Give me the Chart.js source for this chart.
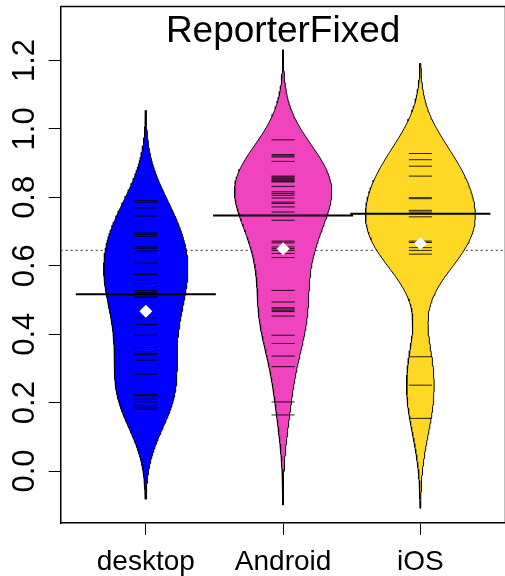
<!DOCTYPE html>
<html lang="en">

<head>
    <meta charset="UTF-8">
    <title>ReporterFixed</title>
    <script src="https://cdn.jsdelivr.net/npm/chart.js"></script>
    <style>
        html, body { margin: 0; padding: 0; overflow: hidden; background: #fff; }
        /* plot box runs a few pixels past the right edge of the window */
        #wrap { width: 512px; height: 576px; }
    </style>
</head>

<body>
    <div id="wrap"><canvas id="beanChart"></canvas></div>

    <script>
        const groups = ['desktop', 'Android', 'iOS'];
        const beanColors = ['#0000FF', '#F043BE', '#FFD826'];

        // single observations, one short line each
        const desktopObs = [0.791, 0.786, 0.769, 0.745, 0.696, 0.691, 0.686, 0.655, 0.650, 0.643,
            0.636, 0.608, 0.577, 0.574, 0.548, 0.527, 0.522, 0.518, 0.511, 0.507,
            0.448, 0.428, 0.397, 0.361, 0.344, 0.341, 0.324, 0.283, 0.224, 0.220,
            0.210, 0.202, 0.191, 0.186, 0.181];
        const androidObs = [0.968, 0.925, 0.921, 0.918, 0.905, 0.862, 0.859, 0.856, 0.853, 0.850,
            0.847, 0.845, 0.832, 0.816, 0.811, 0.806, 0.798, 0.786, 0.782, 0.772,
            0.757, 0.733, 0.672, 0.667, 0.655, 0.650, 0.645, 0.636, 0.624, 0.528,
            0.494, 0.478, 0.474, 0.470, 0.466, 0.453, 0.397, 0.373, 0.336, 0.305,
            0.202, 0.164];
        const iosObs = [0.928, 0.910, 0.891, 0.862, 0.799, 0.796, 0.762, 0.757, 0.743, 0.672,
            0.668, 0.653, 0.645, 0.634, 0.334, 0.251, 0.154];

        const beanAverages = [0.517, 0.747, 0.752];   // long black lines
        const beanMarkers = [0.467, 0.650, 0.665];    // white diamonds
        const overallAverage = 0.645;                 // dotted line

        const yTicks = [0, 0.2, 0.4, 0.6, 0.8, 1.0, 1.2];
        const yTickLabels = ['0.0', '0.2', '0.4', '0.6', '0.8', '1.0', '1.2'];

        const bandwidth = 0.1;
        const tailLength = 0.263;
        const maxHalfWidth = 0.4;
        const lineHalf = 0.084;
        const FONT = '"Liberation Sans", Arial, Helvetica, sans-serif';

        const allObs = [desktopObs, androidObs, iosObs];

        // gaussian kernel density, cut a fixed distance past the data
        function density(obs) {
            const lo = Math.min(...obs) - tailLength;
            const hi = Math.max(...obs) + tailLength;
            const out = [];
            const steps = 240;
            for (let i = 0; i <= steps; i++) {
                const y = lo + (hi - lo) * i / steps;
                let d = 0;
                obs.forEach(v => {
                    const z = (y - v) / bandwidth;
                    d += Math.exp(-0.5 * z * z);
                });
                out.push({ y: y, d: d / (obs.length * bandwidth * Math.sqrt(2 * Math.PI)) });
            }
            return out;
        }

        const dens = allObs.map(density);
        const peak = Math.max(...dens.map(g => Math.max(...g.map(p => p.d))));
        const scaleW = maxHalfWidth / peak;

        const datasets = [];

        // bean outlines
        dens.forEach((g, i) => {
            const c = i + 1;
            const right = g.map(p => ({ x: c + p.d * scaleW, y: p.y }));
            const left = g.slice().reverse().map(p => ({ x: c - p.d * scaleW, y: p.y }));
            datasets.push({
                data: right.concat(left, [right[0]]),
                backgroundColor: beanColors[i],
                borderColor: '#000',
                borderWidth: 1,
                fill: 'shape',
                pointRadius: 0,
                tension: 0,
                order: 5
            });
        });

        // overall dotted line
        datasets.push({
            data: [{ x: 0.38, y: overallAverage }, { x: 3.62, y: overallAverage }],
            borderColor: '#555',
            borderWidth: 1.3,
            borderDash: [2, 3],
            pointRadius: 0,
            fill: false,
            order: 6
        });

        // bean lines
        allObs.forEach((obs, i) => {
            const c = i + 1;
            const pts = [];
            obs.forEach(v => {
                pts.push({ x: c - lineHalf, y: v }, { x: c + lineHalf, y: v }, { x: c, y: null });
            });
            datasets.push({
                data: pts,
                borderColor: 'rgba(0,0,0,0.85)',
                borderWidth: 1,
                pointRadius: 0,
                fill: false,
                spanGaps: false,
                order: 3
            });
        });

        // bean average lines
        const avgPts = [];
        beanAverages.forEach((v, i) => {
            avgPts.push({ x: i + 1 - 0.51, y: v }, { x: i + 1 + 0.51, y: v }, { x: i + 1, y: null });
        });
        datasets.push({
            data: avgPts,
            borderColor: '#000',
            borderWidth: 2,
            pointRadius: 0,
            fill: false,
            spanGaps: false,
            order: 2
        });

        // diamonds
        datasets.push({
            type: 'scatter',
            data: beanMarkers.map((v, i) => ({ x: i + 1, y: v })),
            pointStyle: 'rectRot',
            pointRadius: 6.5,
            backgroundColor: '#fff',
            borderColor: '#fff',
            borderWidth: 0,
            order: 1
        });

        // title, y labels and the top edge of the box
        const boxAndLabels = {
            id: 'boxAndLabels',
            afterDraw(chart) {
                const ctx = chart.ctx;
                const a = chart.chartArea;
                const ys = chart.scales.y;
                ctx.save();
                ctx.strokeStyle = '#000';
                ctx.lineWidth = 1.5;
                ctx.beginPath();
                ctx.moveTo(a.left, a.top);
                ctx.lineTo(a.right, a.top);
                ctx.lineTo(a.right, a.bottom);
                ctx.stroke();

                ctx.fillStyle = '#000';
                ctx.font = '37px ' + FONT;
                ctx.textAlign = 'center';
                ctx.textBaseline = 'alphabetic';
                ctx.fillText('ReporterFixed', (a.left + a.right) / 2, 41.5);

                ctx.font = '31px ' + FONT;
                yTicks.forEach((v, i) => {
                    ctx.save();
                    ctx.translate(34, ys.getPixelForValue(v));
                    ctx.rotate(-Math.PI / 2);
                    ctx.fillText(yTickLabels[i], 0, 0);
                    ctx.restore();
                });
                ctx.restore();
            }
        };

        new Chart(document.getElementById('beanChart'), {
            type: 'line',
            data: { datasets: datasets },
            options: {
                responsive: true,
                maintainAspectRatio: false,
                animation: false,
                layout: { padding: { top: 6, right: 3, left: 0, bottom: 0 } },
                plugins: {
                    legend: { display: false },
                    tooltip: { enabled: false },
                    title: { display: false }
                },
                scales: {
                    x: {
                        type: 'linear',
                        min: 0.38,
                        max: 3.62,
                        afterBuildTicks: s => { s.ticks = groups.map((g, i) => ({ value: i + 1 })); },
                        afterFit: s => { s.height = 53; },
                        grid: { drawOnChartArea: false, drawTicks: true, tickLength: 12, tickColor: '#000', tickWidth: 1 },
                        border: { color: '#000', width: 1.5 },
                        ticks: {
                            padding: 10,
                            color: '#000',
                            font: { size: 28, family: FONT },
                            maxRotation: 0,
                            callback: v => groups[Math.round(v) - 1]
                        }
                    },
                    y: {
                        type: 'linear',
                        min: -0.1518,
                        max: 1.3577,
                        afterBuildTicks: s => { s.ticks = yTicks.map(v => ({ value: v })); },
                        afterFit: s => { s.width = 60.7; },
                        grid: { drawOnChartArea: false, drawTicks: true, tickLength: 12, tickColor: '#000', tickWidth: 1 },
                        border: { color: '#000', width: 1.5 },
                        ticks: { display: false }
                    }
                }
            },
            plugins: [boxAndLabels]
        });
    </script>
</body>

</html>
